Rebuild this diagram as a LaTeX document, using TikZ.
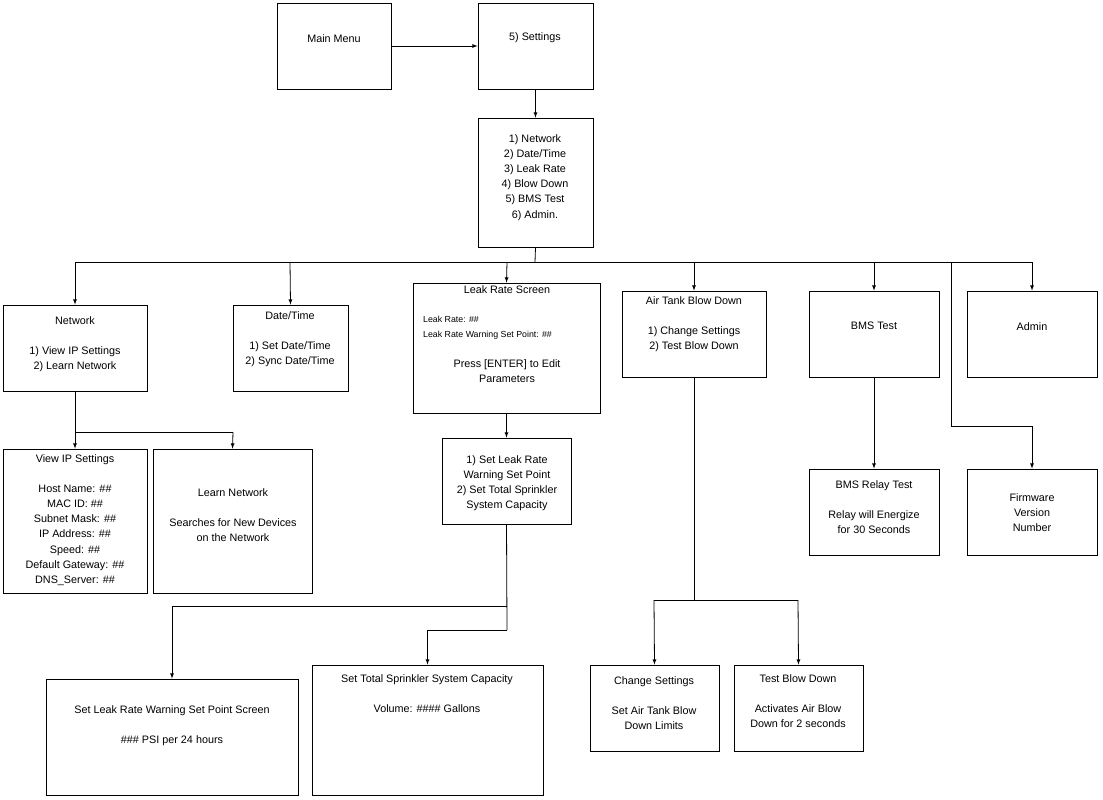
\documentclass[tikz,border=0pt]{standalone}
\usepackage{fontspec}
\setmainfont{Liberation Sans}
\begin{document}
\begin{tikzpicture}[x=1pt,y=-1pt,
  box/.style={draw,line width=0.8pt,inner sep=0pt},
  t/.style={font=\fontsize{10.8}{15.2}\selectfont,align=center,inner sep=0pt,anchor=north},
  s/.style={font=\fontsize{8.8}{14.5}\selectfont,align=left,inner sep=0pt,anchor=north west},
  ln/.style={line width=0.8pt},
  ar/.style={line width=0.8pt,-latex}]
\useasboundingbox (0,0) rectangle (1103,800);
\newcommand\bx[5]{\node[box,minimum width={#4-#2},minimum height={#5-#3}] (#1) at ({(#2+#4)/2},{(#3+#5)/2}) {};}
\bx{mm}{277}{3}{391}{89}
\bx{st}{478}{3}{593}{89}
\bx{ls}{478}{118}{593}{247}
\bx{nw}{3}{305}{147}{391}
\bx{dt}{233}{305}{348}{391}
\bx{lr}{413}{283}{600}{413}
\bx{at}{622}{291}{766}{377}
\bx{bm}{809}{291}{939}{377}
\bx{ad}{967}{291}{1097}{377}
\bx{vi}{3}{449}{147}{593}
\bx{ln}{153}{449}{312}{593}
\bx{sl}{442}{438}{571}{524}
\bx{br}{809}{469}{939}{555}
\bx{fw}{967}{469}{1097}{555}
\bx{sw}{46}{679}{298}{795}
\bx{sc}{312}{665}{543}{795}
\bx{cs}{590}{665}{719}{751}
\bx{tb}{734}{665}{863}{751}
% texts
\node[t] (tmm) at (334,34) {Main Menu};
\node[t] (tst) at (535,32) {5) Settings};
\node[t] (tls) at (535,134) {1) Network\\2) Date/Time\\3) Leak Rate\\4) Blow Down\\5) BMS Test\\6) Admin.};
\node[t] (tnw) at (75,316) {Network\\[15pt]1) View IP Settings\\2) Learn Network};
\node[t] (tdt) at (290,311) {Date/Time\\[15pt]1) Set Date/Time\\2) Sync Date/Time};
\node[t] (tlr) at (507,285) {Leak Rate Screen};
\node[s] (tlr2) at (423,316) {Leak Rate: \#\#\\Leak Rate Warning Set Point: \#\#};
\node[t] (tlr3) at (507,359) {Press [ENTER] to Edit\\Parameters};
\node[t] (tat) at (694,296) {Air Tank Blow Down\\[15pt]1) Change Settings\\2) Test Blow Down};
\node[t] (tbm) at (874,322) {BMS Test};
\node[t] (tad) at (1032,322) {Admin};
\node[t] (tvi) at (75,454) {View IP Settings\\[15pt]Host Name: \#\#\\MAC ID: \#\#\\Subnet Mask: \#\#\\IP Address: \#\#\\Speed: \#\#\\Default Gateway: \#\#\\DNS\_Server: \#\#};
\node[t] (tln) at (233,488) {Learn Network\\[15pt]Searches for New Devices\\on the Network};
\node[t] (tsl) at (507,455) {1) Set Leak Rate\\Warning Set Point\\2) Set Total Sprinkler\\System Capacity};
\node[t] (tbr) at (874,480) {BMS Relay Test\\[15pt]Relay will Energize\\for 30 Seconds};
\node[t] (tfw) at (1032,493) {Firmware\\Version\\Number};
\node[t] (tsw) at (172,705) {Set Leak Rate Warning Set Point Screen\\[15pt]\#\#\# PSI per 24 hours};
\node[t] (tsc) at (427,674) {Set Total Sprinkler System Capacity\\[15pt]Volume: \#\#\#\# Gallons};
\node[t] (tcs) at (654,676) {Change Settings\\[15pt]Set Air Tank Blow\\Down Limits};
\node[t] (ttb) at (798,674) {Test Blow Down\\[15pt]Activates Air Blow\\Down for 2 seconds};
% connectors
\draw[ar] (mm.east|-0,46) -- (st.west|-0,46);
\draw[ar] (st.south) -- (ls.north);
\coordinate (j) at (535,262);
\draw[ln] (ls.south) -- (j);
\draw[ln] (75,262) -- (951,262);
\draw[ar] (75,262) -- (nw.north);
\draw[ar] (290,262) -- (dt.north);
\draw[ar] (507,262) -- (lr.north);
\draw[ar] (694,262) -- (at.north);
\draw[ar] (874,262) -- (bm.north);
\draw[ln] (951,262) -- (1032,262);
\draw[ar] (1032,262) -- (ad.north);
\draw[ln] (951,262) -- (951,426) -- (1032,426);
\draw[ar] (1032,426) -- (fw.north);
\draw[ln] (nw.south) -- (75,432) -- (233,432);
\draw[ar] (75,432) -- (vi.north);
\draw[ar] (233,432) -- (ln.north);
\draw[ar] (lr.south) -- (sl.north);
\draw[ln] (sl.south) -- (507,630);
\draw[ar] (507,606) -| (sw.north);
\draw[ar] (507,630) -| (sc.north);
\draw[ln] (at.south) -- (694,600);
\draw[ln] (654,600) -- (798,600);
\draw[ar] (654,600) -- (cs.north);
\draw[ar] (798,600) -- (tb.north);
\draw[ar] (bm.south) -- (br.north);
\end{tikzpicture}
\end{document}
